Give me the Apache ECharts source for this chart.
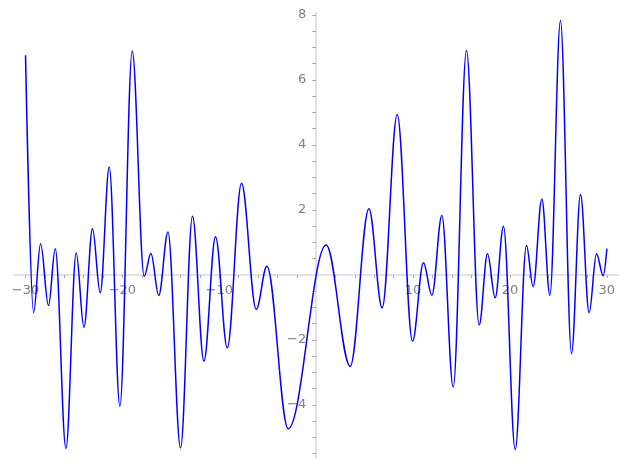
<!DOCTYPE html>
<html>
<head>
<meta charset="utf-8">
<script src="https://cdn.jsdelivr.net/npm/echarts@6/dist/echarts.min.js"></script>
<style>html,body{margin:0;padding:0;background:#fff}#c{width:627px;height:469px}</style>
</head>
<body>
<div id="c"></div>
<script>
// Curve: local extrema (x, y), plus the two end points
const xs = [-30, -29.17, -28.45, -27.63, -26.93, -25.83, -24.77, -23.97, -23.09, -22.29,
  -21.36, -20.26, -18.99, -17.75, -17.06, -16.25, -15.30, -14.00, -12.77, -11.59,
  -10.39, -9.18, -7.71, -6.19, -5.09, -2.89, 1.03, 3.51, 5.44, 6.81,
  8.36, 9.94, 11.07, 11.94, 12.97, 14.14, 15.51, 16.82, 17.68, 18.47,
  19.33, 20.54, 21.70, 22.39, 23.29, 24.12, 25.21, 26.35, 27.28, 28.17,
  28.93, 29.62, 30];
const ys = [6.76, -1.16, 0.96, -0.94, 0.81, -5.34, 0.68, -1.61, 1.42, -0.55,
  3.32, -4.04, 6.89, -0.04, 0.66, -0.63, 1.32, -5.32, 1.81, -2.65,
  1.18, -2.24, 2.82, -1.06, 0.27, -4.73, 0.92, -2.81, 2.04, -1.01,
  4.94, -2.04, 0.38, -0.62, 1.83, -3.45, 6.91, -1.54, 0.65, -0.70,
  1.50, -5.37, 0.91, -0.36, 2.34, -0.62, 7.83, -2.42, 2.48, -1.16,
  0.65, -0.02, 0.81];

const xLabels = [-30, -20, -10, 10, 20, 30];
const xTicks = [-30,-28,-26,-24,-22,-20,-18,-16,-14,-12,-10,-8,-6,-4,-2,2,4,6,8,10,12,14,16,18,20,22,24,26,28,30];
const yLabels = [-4, -2, 2, 4, 6, 8];
const yTicks = [-5.5,-5,-4.5,-4,-3.5,-3,-2.5,-2,-1.5,-1,-0.5,0.5,1,1.5,2,2.5,3,3.5,4,4.5,5,5.5,6,6.5,7,7.5,8];

const fmt = v => (v < 0 ? '\u2212' : '') + Math.abs(v);

const W = 627, H = 469;
const grid = {left: 13.9, right: 8.5, top: 12.7, bottom: 11.2};

const chart = echarts.init(document.getElementById('c'), null, {renderer: 'canvas'});
const option = {
  animation: false,
  backgroundColor: '#ffffff',
  grid: Object.assign({containLabel: false, outerBoundsMode: 'none'}, grid),
  xAxis: {
    type: 'value', min: -31.2, max: 31.2, position: 'bottom', offset: 0,
    axisLine: {onZero: false, lineStyle: {color: '#e3e3e3', width: 2}},
    axisTick: {show: true, customValues: xTicks, length: 3, lineStyle: {color: '#aaaaaa', width: 1}},
    axisLabel: {customValues: xLabels, formatter: fmt, color: '#808080',
      fontFamily: 'DejaVu Sans', fontSize: 13, margin: 9},
    splitLine: {show: false}
  },
  yAxis: {
    type: 'value', min: -5.625, max: 8.07, position: 'left', offset: 0,
    axisLine: {onZero: false, lineStyle: {color: '#e3e3e3', width: 2}},
    axisTick: {show: true, customValues: yTicks, length: 4, lineStyle: {color: '#aaaaaa', width: 1}},
    axisLabel: {customValues: yLabels, formatter: fmt, color: '#808080',
      fontFamily: 'DejaVu Sans', fontSize: 13, margin: 10},
    splitLine: {show: false}
  },
  series: [{
    type: 'line',
    data: xs.map((x, i) => [x, ys[i]]),
    showSymbol: false,
    smooth: 0.36,
    smoothMonotone: 'x',
    lineStyle: {color: '#0000ff', width: 1.5},
    silent: true
  }]
};
chart.setOption(option);
// move both axes (line, ticks and labels) onto the origin, as in the reference
const zeroY = chart.convertToPixel({yAxisIndex: 0}, 0);
const zeroX = chart.convertToPixel({xAxisIndex: 0}, 0);
chart.setOption({
  xAxis: {offset: -((H - grid.bottom) - zeroY)},
  yAxis: {offset: grid.left - zeroX}
});
</script>
</body>
</html>
